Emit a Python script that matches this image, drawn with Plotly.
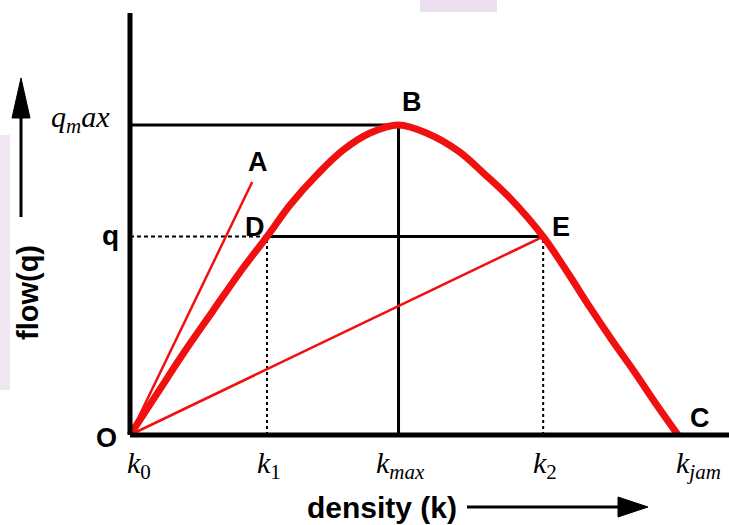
import plotly.graph_objects as go

# flow-density diagram, data units: density 0..100 (k_jam), flow 0..100 (q_max)
K_CURVE = [0, 5, 10, 15, 20.1, 25, 29.2, 34.1, 38.9, 43.8, 49, 54.4, 60, 64.5, 69.3,
           75.4, 80, 84, 88, 92, 96, 100]
Q_CURVE = [0, 13.5, 27, 39.7, 52.6, 64, 74.2, 83.9, 91.9, 97.4, 100, 97.2, 91.5, 84.5, 76.5,
           64, 52, 41, 30.5, 20.5, 10, 0]

K_TICKS = [0, 25, 49, 75.4, 100]
K_TICK_TEXT = ["<i>k</i><sub>0</sub>", "<i>k</i><sub>1</sub>", "<i>k</i><sub><i>max</i></sub>",
               "<i>k</i><sub>2</sub>", "<i>k</i><sub><i>jam</i></sub>"]
Q_MAX = 100
Q_D = 64
K_MAX = K_TICKS[2]
K1 = K_TICKS[1]
K2 = K_TICKS[3]
K_JAM = K_TICKS[4]
A_END = (22.3, 81.6)

POINT_NAMES = ["A", "B", "D", "E", "C", "O"]
POINT_K = [23.4, 51.4, 22.8, 78.6, 104.0, -4.2]
POINT_Q = [88.1, 107.4, 67.1, 67.1, 5.5, -1.0]

W, H = 729, 525
X0, Y0 = 130, 435          # pixel of origin
SX, SY = 5.48, 3.1         # pixels per unit
XR = [-X0 / SX, (W - X0) / SX]
YR = [-(H - Y0) / SY, Y0 / SY]

RED = "#f01010"
SANS = "Liberation Sans, Arial, sans-serif"
SERIF = "Liberation Serif, Times New Roman, serif"

fig = go.Figure()

# guide lines
fig.add_trace(go.Scatter(x=[0, K_MAX, K_MAX], y=[Q_MAX, Q_MAX, 0], mode="lines",
                         line=dict(color="black", width=3)))
fig.add_trace(go.Scatter(x=[K1, K2], y=[Q_D, Q_D], mode="lines",
                         line=dict(color="black", width=3)))
fig.add_trace(go.Scatter(x=[0, K1], y=[Q_D, Q_D], mode="lines",
                         line=dict(color="black", width=2, dash="4px,3px")))
for k in [K1, K2]:
    fig.add_trace(go.Scatter(x=[k, k], y=[0, Q_D], mode="lines",
                             line=dict(color="black", width=2, dash="3px,3px")))

# red rays from origin
fig.add_trace(go.Scatter(x=[0, A_END[0]], y=[0, A_END[1]], mode="lines",
                         line=dict(color=RED, width=2.5)))
fig.add_trace(go.Scatter(x=[0, K2], y=[0, Q_D], mode="lines",
                         line=dict(color=RED, width=2.5)))

# flow-density curve
fig.add_trace(go.Scatter(x=K_CURVE, y=Q_CURVE, mode="lines", line_shape="spline",
                         line=dict(color=RED, width=7, smoothing=1.0)))

# axes
fig.add_trace(go.Scatter(x=[0, 0], y=[0, (Y0 - 13) / SY], mode="lines",
                         line=dict(color="black", width=5)))
fig.add_trace(go.Scatter(x=[0, XR[1]], y=[0, 0], mode="lines",
                         line=dict(color="black", width=5)))

annotations = []
for name, k, q in zip(POINT_NAMES, POINT_K, POINT_Q):
    annotations.append(dict(x=k, y=q, text=f"<b>{name}</b>", showarrow=False,
                            font=dict(family=SANS, size=27, color="black")))
for i, (k, t) in enumerate(zip(K_TICKS, K_TICK_TEXT)):
    last = i == len(K_TICKS) - 1
    annotations.append(dict(x=k, y=-9.7, text=t, showarrow=False,
                            xanchor="left" if last else "center",
                            xshift=-4 if last else (9 if i == 0 else 2),
                            font=dict(family=SERIF, size=30, color="black")))
annotations.append(dict(x=-3.6, y=Q_D + 0.5, text="<b>q</b>", showarrow=False,
                        font=dict(family=SANS, size=28, color="black")))
annotations.append(dict(x=-3.3, y=Q_MAX + 2, text="<i>q</i><sub><i>m</i></sub><i>ax</i>",
                        showarrow=False, xanchor="right",
                        font=dict(family=SERIF, size=30, color="black")))
annotations.append(dict(x=382 / W, y=1 - 507 / H, xref="paper", yref="paper",
                        xanchor="center", yanchor="middle",
                        text="<b>density (k)</b>", showarrow=False,
                        font=dict(family=SANS, size=30, color="black")))
annotations.append(dict(x=28 / W, y=1 - 293 / H, xref="paper", yref="paper",
                        xanchor="center", yanchor="middle",
                        text="<b>flow(q)</b>", showarrow=False, textangle=-90,
                        font=dict(family=SANS, size=29, color="black")))


def px(x, y):
    return f"{x / W:.5f},{1 - y / H:.5f}"


shapes = [
    # background smudges from the source image
    dict(type="rect", xref="paper", yref="paper", x0=0, x1=10 / W, y0=1 - 390 / H, y1=1 - 135 / H,
         fillcolor="#efe6f1", line_width=0, layer="below"),
    dict(type="rect", xref="paper", yref="paper", x0=420 / W, x1=497 / W, y0=1 - 12 / H, y1=1,
         fillcolor="#ecdff0", line_width=0, layer="below"),
    # arrows
    dict(type="line", xref="paper", yref="paper", x0=467 / W, x1=622 / W,
         y0=1 - 507 / H, y1=1 - 507 / H, line=dict(color="black", width=3)),
    dict(type="path", xref="paper", yref="paper",
         path=f"M {px(618, 497)} L {px(648, 507)} L {px(618, 517)} Z",
         fillcolor="black", line=dict(color="black", width=1)),
    dict(type="line", xref="paper", yref="paper", x0=21 / W, x1=21 / W,
         y0=1 - 217 / H, y1=1 - 115 / H, line=dict(color="black", width=3)),
    dict(type="path", xref="paper", yref="paper",
         path=f"M {px(12, 118)} L {px(21, 78)} L {px(30, 118)} Z",
         fillcolor="black", line=dict(color="black", width=1)),
]

fig.update_layout(
    width=W, height=H,
    margin=dict(l=0, r=0, t=0, b=0),
    paper_bgcolor="white", plot_bgcolor="white",
    showlegend=False,
    xaxis=dict(range=XR, visible=False, fixedrange=True),
    yaxis=dict(range=YR, visible=False, fixedrange=True),
    annotations=annotations,
    shapes=shapes,
)

fig.write_html("out.html", config={"displayModeBar": False},
               post_script="document.body.style.margin='0';")
